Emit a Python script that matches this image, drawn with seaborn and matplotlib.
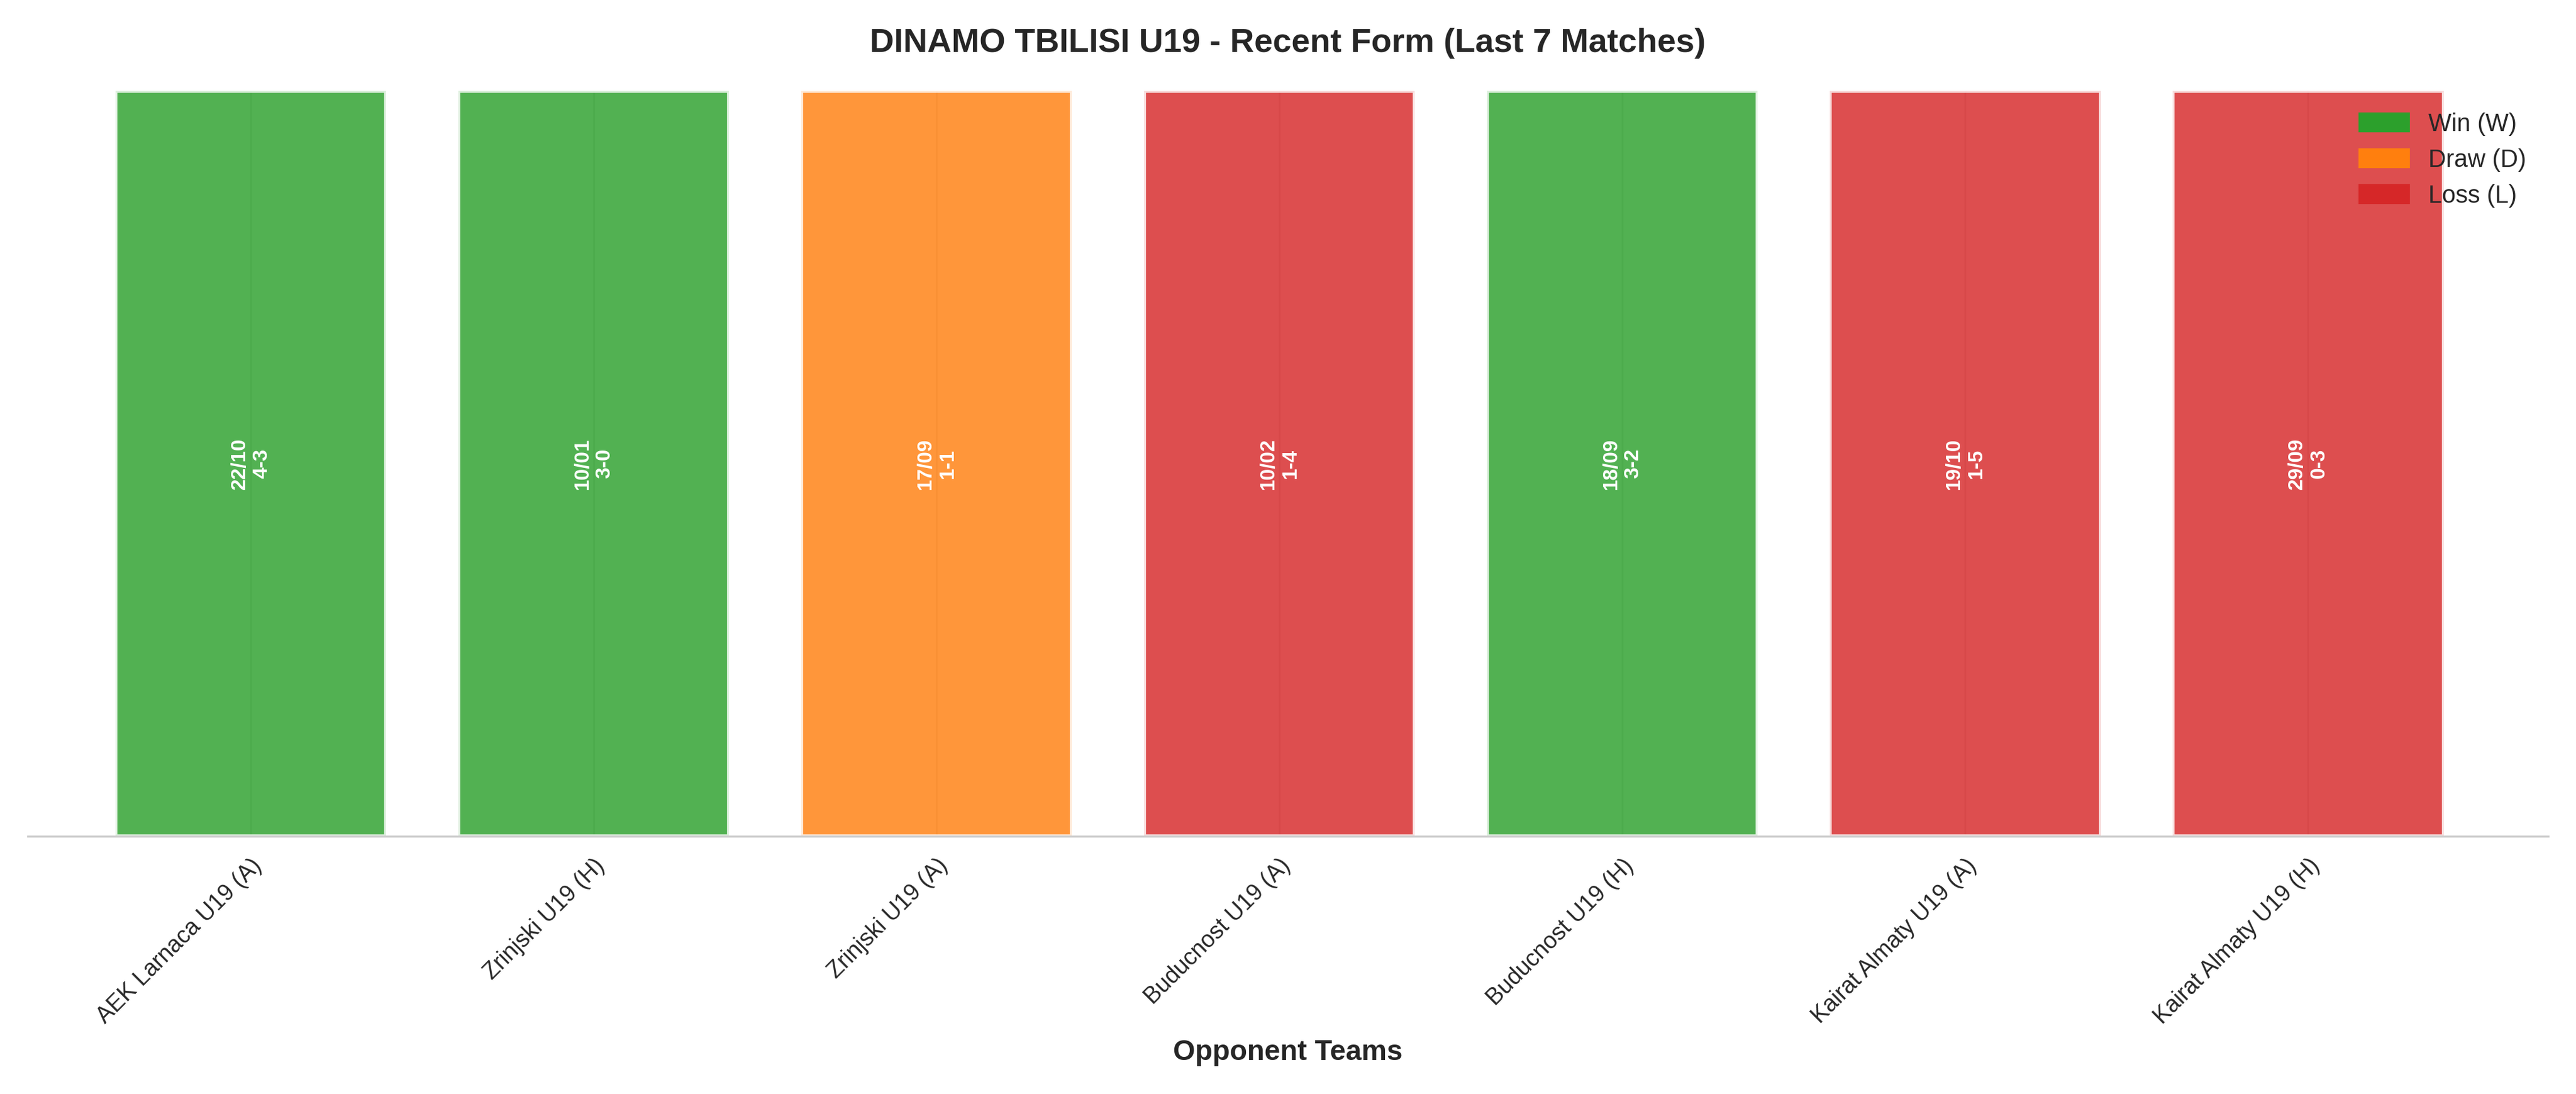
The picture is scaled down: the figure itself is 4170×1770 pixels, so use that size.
import matplotlib
matplotlib.use("Agg")
import matplotlib.pyplot as plt
import seaborn as sns
import pandas as pd
from matplotlib.patches import Patch

opponents = ["AEK Larnaca U19 (A)", "Zrinjski U19 (H)", "Zrinjski U19 (A)", "Buducnost U19 (A)",
             "Buducnost U19 (H)", "Kairat Almaty U19 (A)", "Kairat Almaty U19 (H)"]
results = ["W", "W", "D", "L", "W", "L", "L"]
dates = ["22/10", "10/01", "17/09", "10/02", "18/09", "19/10", "29/09"]
scores = ["4-3", "3-0", "1-1", "1-4", "3-2", "1-5", "0-3"]
heights = [1, 1, 1, 1, 1, 1, 1]

colors = {"W": "#2ca02c", "D": "#ff7f0e", "L": "#d62728"}
df = pd.DataFrame({"opponent": opponents, "result": results, "h": heights})

sns.set_style("whitegrid")
plt.rcParams['font.family'] = ['Arial', 'Liberation Sans', 'DejaVu Sans']
fig, ax = plt.subplots(figsize=(13.9, 5.9), dpi=300)

sns.barplot(data=df, x="opponent", y="h", hue="result", palette=colors, dodge=False,
            saturation=1, width=0.79, alpha=0.82, edgecolor="white", linewidth=1.5,
            legend=False, ax=ax)

for i, (d, s) in enumerate(zip(dates, scores)):
    ax.text(i, 0.5, f"{d}\n{s}", rotation=90, ha="center", va="center",
            color="white", fontsize=8, fontweight="bold")

ax.set_ylim(0, 1.0)
ax.set_xlim(-0.5 - 0.15, len(opponents) - 0.5 + 0.2)
ax.set_yticks([])
ax.set_ylabel("")
ax.grid(axis="y", visible=False)
ax.grid(axis="x", color="#dddddd", linewidth=0.6)
for sp in ["top", "left", "right"]:
    ax.spines[sp].set_visible(False)
ax.spines["bottom"].set_color("#cccccc")
ax.set_xticks(range(len(opponents)))
ax.set_xticklabels(opponents, rotation=45, ha="right", rotation_mode="anchor", fontsize=9)
ax.set_xlabel("Opponent Teams", fontsize=11, fontweight="bold")
ax.set_title("DINAMO TBILISI U19 - Recent Form (Last 7 Matches)", fontsize=13,
             fontweight="bold", pad=15)

handles = [Patch(color=colors[k]) for k in ["W", "D", "L"]]
ax.legend(handles, ["Win (W)", "Draw (D)", "Loss (L)"], loc="upper right", frameon=False, fontsize=9.5)

plt.tight_layout()
fig.savefig("out.png", dpi=300)
